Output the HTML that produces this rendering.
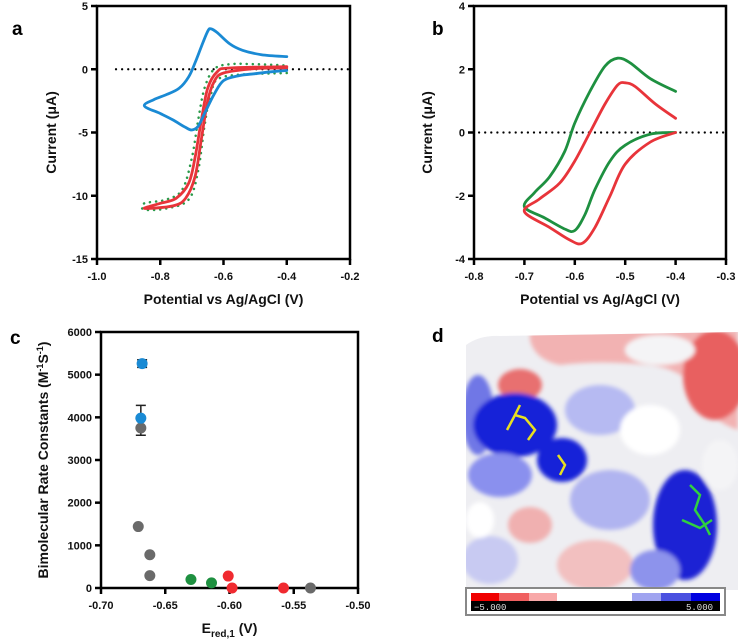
<!DOCTYPE html>
<html><head><meta charset="utf-8"><style>
html,body{margin:0;padding:0;background:#fff;}
svg{display:block;font-family:"Liberation Sans",Arial,sans-serif;}
.tk{font-size:11px;font-weight:bold;fill:#111;}
.lab{font-size:14px;font-weight:bold;fill:#111;}
.let{font-size:19px;font-weight:bold;fill:#000;}
</style></head><body>
<svg id="fig" width="738" height="640" viewBox="0 0 738 640">
<defs><filter id="bl" x="-10%" y="-10%" width="120%" height="120%"><feGaussianBlur stdDeviation="2"/></filter>
<clipPath id="pclip"><path d="M466,345 Q480,335 500,336 L738,332 L738,590 L466,590 Z"/></clipPath></defs>
<g id="pa"></g>
<g id="pb"></g>
<g id="pc"></g>
<g id="pd" clip-path="url(#pclip)">
 <rect x="460" y="330" width="280" height="262" fill="#eeeef2"/>
 <g filter="url(#bl)">
  <path d="M530,330 L738,330 L738,430 Q710,420 700,400 Q690,370 650,365 Q600,360 560,365 Q535,360 530,340 Z" fill="#f2b2b2"/>
  <ellipse cx="715" cy="375" rx="32" ry="45" fill="#e86060"/>
  <ellipse cx="660" cy="350" rx="35" ry="15" fill="#f4f4f6"/>
  <ellipse cx="520" cy="385" rx="22" ry="16" fill="#e87070"/>
  <ellipse cx="478" cy="415" rx="16" ry="40" fill="#7077e6"/>
  <ellipse cx="515" cy="425" rx="42" ry="32" fill="#1820d8"/>
  <ellipse cx="562" cy="460" rx="25" ry="22" fill="#1820d8"/>
  <ellipse cx="500" cy="475" rx="32" ry="22" fill="#8a90ee"/>
  <ellipse cx="600" cy="410" rx="35" ry="25" fill="#b6baf2"/>
  <ellipse cx="650" cy="430" rx="30" ry="25" fill="#ffffff"/>
  <ellipse cx="610" cy="500" rx="40" ry="30" fill="#b0b4f0"/>
  <ellipse cx="530" cy="525" rx="22" ry="18" fill="#f0b0b0"/>
  <ellipse cx="685" cy="525" rx="32" ry="55" fill="#1a22d4"/>
  <ellipse cx="720" cy="465" rx="18" ry="25" fill="#f4f4f6"/>
  <ellipse cx="595" cy="565" rx="38" ry="25" fill="#f2c0c0"/>
  <ellipse cx="490" cy="560" rx="28" ry="24" fill="#c8caf2"/>
  <ellipse cx="655" cy="570" rx="25" ry="20" fill="#8d93ec"/>
  <ellipse cx="480" cy="520" rx="14" ry="18" fill="#ffffff"/>
 </g>
 <path d="M507,430 L515,415 L525,418 L535,430 L528,440 M515,415 L520,405 M558,455 L565,465 L560,475" stroke="#e8e020" stroke-width="2.5" fill="none"/>
 <path d="M690,485 L700,495 L695,510 L705,525 L710,535 M682,520 L700,528 L712,520" stroke="#30d040" stroke-width="2.5" fill="none"/>
</g>
<g>
 <rect x="466" y="588" width="259" height="27" fill="#fff" stroke="#888" stroke-width="2"/>
 <rect x="471" y="593" width="249" height="8" fill="#fff"/>
 <rect x="471" y="593" width="28" height="8" fill="#f00000"/>
 <rect x="499" y="593" width="30" height="8" fill="#f06060"/>
 <rect x="529" y="593" width="28" height="8" fill="#f8a8a8"/>
 <rect x="632" y="593" width="29" height="8" fill="#a0a4f0"/>
 <rect x="661" y="593" width="30" height="8" fill="#4a50e0"/>
 <rect x="691" y="593" width="29" height="8" fill="#0000e0"/>
 <rect x="471" y="601" width="249" height="10" fill="#000"/>
 <text x="474" y="610" font-size="9" fill="#ddd" font-family="Liberation Mono,monospace">−5.000</text>
 <text x="686" y="610" font-size="9" fill="#ddd" font-family="Liberation Mono,monospace">5.000</text>
</g>
<text class="let" x="12" y="35">a</text>
<text class="let" x="432" y="35">b</text>
<text class="let" x="10" y="344">c</text>
<text class="let" x="432" y="342">d</text>
</svg>
<script>
// Panel a data
const aXTicks=[-1.0,-0.8,-0.6,-0.4,-0.2];
const aYTicks=[5,0,-5,-10,-15];
const aBlueX=[-0.40,-0.45,-0.50,-0.55,-0.60,-0.63,-0.66,-0.68,-0.70,-0.72,-0.76,-0.80,-0.85,-0.82,-0.78,-0.74,-0.71,-0.69,-0.67,-0.65,-0.64,-0.62,-0.58,-0.54,-0.48,-0.40];
const aBlueY=[-0.1,-0.2,-0.35,-0.5,-0.9,-2.0,-3.5,-4.5,-4.8,-4.6,-4.0,-3.5,-2.9,-2.4,-2.0,-1.5,-0.6,0.5,1.8,3.0,3.2,2.9,2.0,1.5,1.15,1.0];
const aRedX=[-0.40,-0.50,-0.60,-0.63,-0.65,-0.67,-0.69,-0.72,-0.76,-0.85,-0.80,-0.75,-0.71,-0.69,-0.67,-0.65,-0.62,-0.58,-0.40];
const aRedY=[0.1,0.05,-0.3,-1.0,-2.5,-5.5,-8.5,-10.2,-10.8,-11.0,-10.6,-10.2,-9.0,-7.0,-4.0,-1.5,-0.2,0.1,0.2];
const aGreenX=[-0.40,-0.60,-0.64,-0.66,-0.68,-0.71,-0.78,-0.85,-0.85,-0.78,-0.73,-0.70,-0.68,-0.66,-0.63,-0.58,-0.50,-0.40];
const aGreenY=[-0.3,-0.6,-2.0,-4.5,-8.0,-10.3,-11.0,-11.1,-10.6,-10.3,-9.5,-7.0,-4.0,-1.5,0.0,0.4,0.4,0.3];
// Panel b data
const bXTicks=[-0.8,-0.7,-0.6,-0.5,-0.4,-0.3];
const bYTicks=[4,2,0,-2,-4];
const bGreenX=[-0.40,-0.45,-0.50,-0.53,-0.56,-0.58,-0.60,-0.62,-0.66,-0.70,-0.68,-0.65,-0.62,-0.60,-0.57,-0.54,-0.515,-0.49,-0.45,-0.40];
const bGreenY=[0,-0.05,-0.4,-0.9,-1.8,-2.6,-3.1,-3.05,-2.7,-2.35,-1.9,-1.4,-0.6,0.3,1.3,2.1,2.35,2.2,1.7,1.3];
const bRedX=[-0.40,-0.45,-0.50,-0.53,-0.56,-0.585,-0.61,-0.65,-0.70,-0.67,-0.63,-0.60,-0.57,-0.54,-0.515,-0.50,-0.48,-0.44,-0.40];
const bRedY=[0,-0.3,-1.0,-2.0,-3.0,-3.5,-3.4,-3.0,-2.5,-2.1,-1.6,-0.9,0.0,0.9,1.5,1.57,1.45,0.9,0.45];
// Panel c data
const cXTicks=[-0.70,-0.65,-0.60,-0.55,-0.50];
const cYTicks=[0,1000,2000,3000,4000,5000,6000];
const cBlueX=[-0.668,-0.669];
const cBlueY=[5260,3980];
const cBlueErrLo=[5170,3580];
const cBlueErrHi=[5350,4280];
const cGrayX=[-0.669,-0.671,-0.662,-0.662,-0.537];
const cGrayY=[3750,1440,780,290,0];
const cGreenX=[-0.630,-0.614];
const cGreenY=[200,120];
const cRedX=[-0.601,-0.598,-0.558];
const cRedY=[280,0,0];

const NS='http://www.w3.org/2000/svg';
function mk(parent,tag,attrs){const e=document.createElementNS(NS,tag);for(const k in attrs)e.setAttribute(k,attrs[k]);parent.appendChild(e);return e;}
function lin(d0,d1,r0,r1){return v=>r0+(v-d0)/(d1-d0)*(r1-r0);}
function smooth(xs,ys,sx,sy){const p=xs.map((x,i)=>[sx(x),sy(ys[i])]);let d='M'+p[0][0]+','+p[0][1];
 for(let i=0;i<p.length-1;i++){const p0=p[i-1]||p[i],p1=p[i],p2=p[i+1],p3=p[i+2]||p2;
 const c1=[p1[0]+(p2[0]-p0[0])/6,p1[1]+(p2[1]-p0[1])/6],c2=[p2[0]-(p3[0]-p1[0])/6,p2[1]-(p3[1]-p1[1])/6];
 d+=' C'+c1[0].toFixed(1)+','+c1[1].toFixed(1)+' '+c2[0].toFixed(1)+','+c2[1].toFixed(1)+' '+p2[0].toFixed(1)+','+p2[1].toFixed(1);}return d;}
function axes(g,L,R,T,B,sx,sy,xt,yt,fmtx,fmty,xl,yl,ylx){
 const frame=mk(g,'rect',{x:L,y:T,width:R-L,height:B-T,fill:'none',stroke:'#000','stroke-width':2.5});
 
 
 xt.forEach(v=>{const x=sx(v);const t=mk(g,'line',{x1:x,x2:x,y1:B,y2:B+6,stroke:'#000','stroke-width':2.5});
  
  
  const l=mk(g,'text',{x:x,y:B+21,'text-anchor':'middle',class:'tk'});l.textContent=fmtx(v);
  
  });
 yt.forEach(v=>{const y=sy(v);const t=mk(g,'line',{x1:L-6,x2:L,y1:y,y2:y,stroke:'#000','stroke-width':2.5});
  
  
  const l=mk(g,'text',{x:L-9,y:y+4,'text-anchor':'end',class:'tk'});l.textContent=fmty(v);
  
  });
 const xlab=mk(g,'text',{x:(L+R)/2,y:B+45,'text-anchor':'middle',class:'lab'});xlab.innerHTML=xl;
 
 
 const ylab=mk(g,'text',{x:0,y:0,'text-anchor':'middle',class:'lab',transform:'translate('+ylx+','+(T+B)/2+') rotate(-90)'});ylab.innerHTML=yl;
 
 }
function curve(g,xs,ys,sx,sy,col,name,dash){const p=mk(g,'path',{d:smooth(xs,ys,sx,sy),fill:'none',stroke:col,'stroke-width':dash?2.5:2.8,'stroke-linecap':'round','stroke-linejoin':'round'});
 if(dash)p.setAttribute('stroke-dasharray','0.1 6');
 
 }
function zero(g,L,R,y){const z=mk(g,'line',{x1:L,x2:R,y1:y,y2:y,stroke:'#000','stroke-width':2.2,'stroke-dasharray':'0.1 6','stroke-linecap':'round'});
 
 }
// Panel a
(function(){const g=document.getElementById('pa');const L=97,R=350,T=6,B=259;
 const sx=lin(-1.0,-0.2,L,R),sy=lin(5,-15,T,B);
 axes(g,L,R,T,B,sx,sy,aXTicks,aYTicks,v=>v.toFixed(1),v=>String(v),'Potential vs Ag/AgCl (V)','Current (μA)',56);
 zero(g,sx(-0.94),R,sy(0));
 curve(g,aGreenX,aGreenY,sx,sy,'#2a9a4a','green-dotted-cv',true);
 curve(g,aRedX,aRedY,sx,sy,'#e8343a','red-cv',false);
 curve(g,aBlueX,aBlueY,sx,sy,'#1a8ad4','blue-cv',false);})();
// Panel b
(function(){const g=document.getElementById('pb');const L=474,R=726,T=6,B=259;
 const sx=lin(-0.8,-0.3,L,R),sy=lin(4,-4,T,B);
 axes(g,L,R,T,B,sx,sy,bXTicks,bYTicks,v=>v.toFixed(1),v=>String(v),'Potential vs Ag/AgCl (V)','Current (μA)',432);
 zero(g,sx(-0.79),R,sy(0));
 curve(g,bGreenX,bGreenY,sx,sy,'#1e9040','green-cv',false);
 curve(g,bRedX,bRedY,sx,sy,'#e8343a','red-cv',false);})();
// Panel c
(function(){const g=document.getElementById('pc');const L=101,R=358,T=332,B=588;
 const sx=lin(-0.70,-0.50,L,R),sy=lin(6000,0,T,B);
 axes(g,L,R,T,B,sx,sy,cXTicks,cYTicks,v=>v.toFixed(2),v=>String(v),'E<tspan font-size="10" dy="4">red,1</tspan><tspan dy="-4"> (V)</tspan>','Bimolecular Rate Constants (M<tspan font-size="9" dy="-5">-1</tspan><tspan dy="5">S</tspan><tspan font-size="9" dy="-5">-1</tspan><tspan dy="5">)</tspan>',48);
 function dots(xs,ys,col,name){xs.forEach((x,i)=>{const c=mk(g,'circle',{cx:sx(x),cy:sy(ys[i]),r:5.5,fill:col});
  
  });}
 cBlueX.forEach((x,i)=>{const px=sx(x);const e=mk(g,'path',{d:'M'+px+','+sy(cBlueErrLo[i])+'V'+sy(cBlueErrHi[i])+'M'+(px-5)+','+sy(cBlueErrLo[i])+'h10M'+(px-5)+','+sy(cBlueErrHi[i])+'h10',stroke:'#222','stroke-width':1.5,fill:'none'});
  
  });
 dots(cGrayX,cGrayY,'#6a6a6a','gray-point');
 dots(cBlueX,cBlueY,'#1a8ad4','blue-point');
 dots(cGreenX,cGreenY,'#1e9040','green-point');
 dots(cRedX,cRedY,'#f02a30','red-point');})();
</script>
</body></html>
